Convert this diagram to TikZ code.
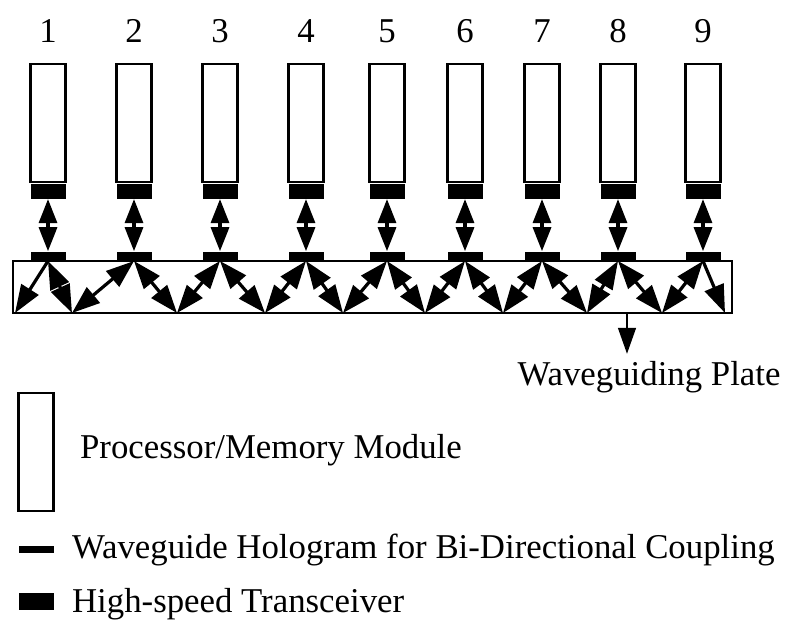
\documentclass[tikz,border=0pt]{standalone}
\usepackage{fontspec}
\setmainfont{Liberation Serif}
\usetikzlibrary{positioning,arrows.meta}

\begin{document}
\begin{tikzpicture}[x=0.5pt, y=-0.5pt,
  font=\fontsize{17.4}{21}\selectfont,
  module/.style={draw, line width=1.3pt, fill=white, inner sep=0pt, minimum width=17.5pt, minimum height=59pt},
  xcvr/.style={fill=black, inner sep=0pt, minimum width=17.5pt, minimum height=7.5pt},
  holo/.style={fill=black, inner sep=0pt, minimum width=17.5pt, minimum height=4.5pt},
  vlink/.style={{Triangle[length=12pt,width=9pt]}-{Triangle[length=12pt,width=9pt]}, line width=1.6pt},
  link/.style={{Triangle[length=14pt,width=10pt]}-{Triangle[length=14pt,width=10pt]}, line width=1.6pt},
  ray/.style={-{Triangle[length=14pt,width=10pt]}, line width=1.6pt},
  pointer/.style={-{Triangle[length=13pt,width=9pt]}, line width=0.7pt}]

  \useasboundingbox (0,0) rectangle (797,636);

  % --- waveguiding plate ---
  \node[draw, line width=1pt, inner sep=0pt, outer sep=0pt, minimum width=359.5pt, minimum height=26pt] (plate) at (372.5,287) {};

  % --- modules, transceivers, holograms ---
  \foreach \x [count=\i] in {48,134,220,306,387,465,542,618,703} {
    \node[module] (m\i) at (\x,123) {};
    \node[xcvr, below=0pt of m\i] (t\i) {};
    \node[holo, anchor=south] (h\i) at (\x,0 |- plate.north) {};
    \node (n\i) at (\x,31) {\i};
    \draw[vlink] (t\i) -- (h\i);
  }

  % --- zigzag paths inside the plate ---
  \foreach \x [count=\i from 0] in {15,72,177,265,343,425,503,587,662,725}
    \coordinate (b\i) at (\x,0 |- plate.south);
  \draw[ray] (h1.south) -- (b0);
  \foreach \i in {1,...,8} {
    \pgfmathtruncatemacro{\k}{\i+1}
    \draw[link] (h\i.south) -- (b\i);
    \draw[link] (h\k.south) -- (b\i);
  }
  \draw[ray] (h9.south) -- (b9);

  % --- plate label ---
  \node[anchor=base] (wpl) at (649,385) {Waveguiding Plate};
  \coordinate (wpin) at (627,0 |- plate.south);
  \draw[pointer] (wpin) -- (wpin |- wpl.north);

  % --- legend ---
  \node[module] (lgmod) at (36,452) {};
  \node[anchor=base west] (lgmodt) at (73,458) {Processor/Memory Module};
  \node[holo, minimum height=3.5pt] (lghol) at (36,549.5) {};
  \node[anchor=base west] (lgholt) at (65,558) {Waveguide Hologram for Bi-Directional Coupling};
  \node[xcvr, minimum height=8.5pt] (lgxc) at (36,601.5) {};
  \node[anchor=base west] (lgxct) at (65,612) {High-speed Transceiver};
\end{tikzpicture}
\end{document}
